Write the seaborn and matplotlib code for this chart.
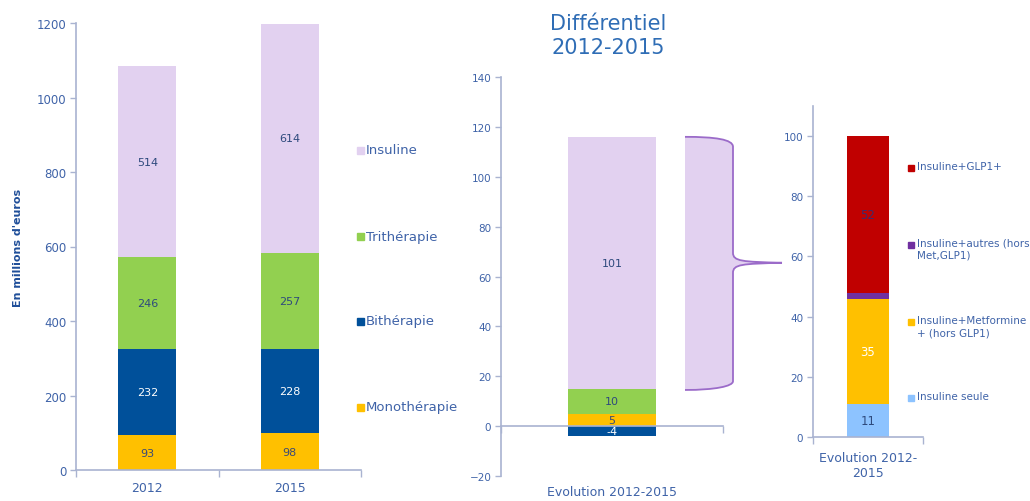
import numpy as np
import matplotlib
matplotlib.use("Agg")
import matplotlib.pyplot as plt
import seaborn as sns
from matplotlib.path import Path
from matplotlib.patches import PathPatch, Rectangle
from matplotlib.transforms import blended_transform_factory

# Dépenses par classe de traitement (millions d'euros)
years = ["2012", "2015"]
classes = ["Monothérapie", "Bithérapie", "Trithérapie", "Insuline"]
monotherapie = [93, 98]
bitherapie = [232, 228]
tritherapie = [246, 257]
insuline = [514, 614]

# Différentiel 2012-2015 (même ordre que classes)
diff_category = ["Evolution 2012-2015"]
diff_values = [5, -4, 10, 101]

# Détail de l'évolution de l'insuline
ins_category = ["Evolution 2012-\n2015"]
ins_classes = ["Insuline seule", "Insuline+Metformine\n+ (hors GLP1)",
               "Insuline+autres (hors\nMet,GLP1)", "Insuline+GLP1+"]
ins_values = [11, 35, 2, 52]

class_colors = ["#FFC000", "#00509A", "#92D050", "#E2D1F0"]
class_text = ["#3A4A78", "white", "#2E4A7D", "#2E4A7D"]
ins_colors = ["#8DC3FF", "#FFC000", "#7030A0", "#C00000"]
ins_text = ["#2E4A7D", "white", "white", "#3D2B6B"]

sns.set_style("white")
plt.rcParams["font.family"] = ["DejaVu Sans"]

spine_c = "#A9B3D1"
tick_c = "#3F63A8"
title_c = "#2F6DB5"

W, H = 1030, 502
fig = plt.figure(figsize=(W / 100, H / 100), dpi=100)


def px_axes(x0, x1, y_bottom, y_top):
    return fig.add_axes([x0 / W, 1 - y_bottom / H, (x1 - x0) / W, (y_bottom - y_top) / H])


def stacked(ax, cats, layers, colors, txt_colors, width, fs):
    n = len(cats)
    pos = np.zeros(n)
    neg = np.zeros(n)
    for vals, col, tc in zip(layers, colors, txt_colors):
        vals = np.asarray(vals, dtype=float)
        bottom = np.where(vals >= 0, pos, neg)
        sns.barplot(x=cats, y=vals, bottom=bottom, color=col, saturation=1,
                    width=width, errorbar=None, edgecolor="none", ax=ax)
        for i, (v, b) in enumerate(zip(vals, bottom)):
            if abs(v) >= 4:
                ax.text(i, b + v / 2, f"{v:.0f}", ha="center", va="center",
                        fontsize=fs, color=tc)
        pos = np.where(vals >= 0, pos + vals, pos)
        neg = np.where(vals < 0, neg + vals, neg)


def style(ax, n, ylabsize):
    for s in ["top", "right"]:
        ax.spines[s].set_visible(False)
    for s in ["left", "bottom"]:
        ax.spines[s].set_color(spine_c)
        ax.spines[s].set_linewidth(1.2)
    ax.tick_params(axis="y", length=4, width=1, color=spine_c,
                   labelcolor=tick_c, labelsize=ylabsize, pad=3, left=True)
    ax.set_xticks(np.arange(-0.5, n, 1.0), minor=True)
    ax.tick_params(axis="x", which="minor", length=5, width=1, color=spine_c, bottom=True)
    ax.tick_params(axis="x", which="major", length=0, labelcolor=tick_c, labelsize=9, pad=8)
    ax.set_xlim(-0.5, n - 0.5)
    ax.set_xlabel("")
    ax.set_ylabel("")


# --- Graphique principal -------------------------------------------------
ax1 = px_axes(76, 361, 471, 24)
stacked(ax1, years, [monotherapie, bitherapie, tritherapie, insuline],
        class_colors, class_text, 0.41, 8)
ax1.set_ylim(0, 1200)
ax1.set_yticks(np.arange(0, 1201, 200))
style(ax1, len(years), 8.5)
ax1.set_ylabel("En millions d'euros", fontsize=8, fontweight="bold", color="#1F4E99")
ax1.yaxis.set_label_coords(-0.186, 0.5)

# légende des classes
leg_y = [408, 322, 237, 151]
for name, col, y in zip(classes, class_colors, leg_y):
    fig.patches.append(Rectangle(((357) / W, 1 - (y + 3.5) / H), 7 / W, 7 / H,
                                 transform=fig.transFigure, color=col))
    fig.text(366 / W, 1 - y / H, name, ha="left", va="center",
             fontsize=9.5, color=tick_c)

# --- Différentiel --------------------------------------------------------
ax2 = px_axes(501, 723, 477, 78)
stacked(ax2, diff_category, [[v] for v in diff_values],
        class_colors, class_text, 0.40, 8)
ax2.set_ylim(-20, 140)
ax2.set_yticks(np.arange(-20, 141, 20))
style(ax2, 1, 7.5)
ax2.spines["bottom"].set_position(("data", 0))
ax2.set_xticklabels([])
ax2.text(0, -0.038, diff_category[0], transform=blended_transform_factory(ax2.transData, ax2.transAxes),
         ha="center", va="center", fontsize=9, color=tick_c)

fig.text(608 / W, 1 - 36 / H, "Différentiel\n2012-2015", ha="center", va="center",
         fontsize=15, color=title_c, linespacing=1.3)

# accolade reliant la part insuline au détail
ins_top = sum(v for v in diff_values if v > 0)
ins_bot = ins_top - diff_values[3]
mid = (ins_top + ins_bot) / 2
tr = blended_transform_factory(fig.transFigure, ax2.transData)
X = lambda p: p / W
x0, x1, xt = X(685), X(733), X(782)
outline = [
    (x0, ins_top), (X(715), ins_top), (x1, ins_top - 1), (x1, ins_top - 4),
    (x1, mid + 4),
    (x1, mid + 0.6), (X(742), mid + 0.4), (xt, mid),
    (X(742), mid - 0.4), (x1, mid - 0.6), (x1, mid - 4),
    (x1, ins_bot + 3),
    (x1, ins_bot + 1), (X(715), ins_bot - 0.5), (x0, ins_bot - 0.5),
]
codes = [Path.MOVETO, Path.CURVE4, Path.CURVE4, Path.CURVE4, Path.LINETO,
         Path.CURVE4, Path.CURVE4, Path.CURVE4,
         Path.CURVE4, Path.CURVE4, Path.CURVE4, Path.LINETO,
         Path.CURVE4, Path.CURVE4, Path.CURVE4]
fill_path = Path(outline + [(x0, ins_top)], codes + [Path.LINETO])
fig.patches.append(PathPatch(fill_path, transform=tr, facecolor="#E2D1F0",
                             edgecolor="none", clip_on=False))
fig.patches.append(PathPatch(Path(outline, codes), transform=tr, facecolor="none",
                             edgecolor="#9B6BC9", lw=1.3, clip_on=False))

# --- Détail insuline -----------------------------------------------------
ax3 = px_axes(813, 923, 438, 107)
stacked(ax3, ins_category, [[v] for v in ins_values],
        ins_colors, ins_text, 0.39, 8.5)
ax3.set_ylim(0, 110)
ax3.set_yticks(np.arange(0, 101, 20))
style(ax3, 1, 7.5)
ax3.tick_params(axis="x", which="major", pad=10)

ins_leg_y = [399, 323, 246, 169]
for name, col, y in zip(ins_classes, ins_colors, ins_leg_y):
    fig.patches.append(Rectangle((908 / W, 1 - (y + 3) / H), 6 / W, 6 / H,
                                 transform=fig.transFigure, color=col))
    fig.text(917 / W, 1 - (y - 7) / H, name, ha="left", va="top",
             fontsize=7.5, color=tick_c, linespacing=1.25)

fig.savefig("out.png", dpi=100)
